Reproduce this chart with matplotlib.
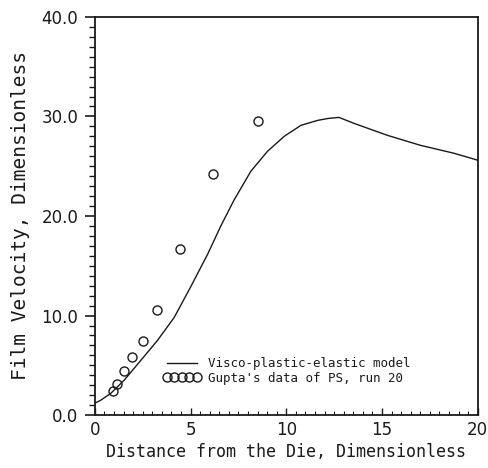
import numpy as np
import matplotlib.pyplot as plt
from matplotlib.ticker import MultipleLocator, FormatStrFormatter

# model curve: visco-plastic-elastic prediction
model_x = [0.0, 0.31, 0.84, 1.53, 2.4, 3.27, 4.14, 5.01, 5.9, 6.58, 7.27, 8.15, 9.02, 9.89,
           10.76, 11.63, 12.2, 12.75, 13.54, 15.28, 17.0, 18.76, 20.0]
model_v = [1.2, 1.5, 2.2, 3.5, 5.5, 7.5, 9.8, 12.9, 16.2, 19.0, 21.6, 24.5, 26.5, 28.0,
           29.1, 29.6, 29.8, 29.9, 29.3, 28.1, 27.1, 26.3, 25.6]

# Gupta's data of PS, run 20
data_x = [0.94, 1.15, 1.5, 1.93, 2.5, 3.24, 4.45, 6.15, 8.5]
data_v = [2.4, 3.1, 4.4, 5.8, 7.4, 10.6, 16.7, 24.2, 29.5]

ink = '#1a1a1a'
mono = 'DejaVu Sans Mono'
plt.rcParams['font.family'] = 'DejaVu Sans'

fig = plt.figure(figsize=(4.89, 4.68), dpi=100)
ax = fig.add_axes([0.194, 0.113, 0.783, 0.851])

ax.plot(model_x, model_v, color=ink, lw=1.0, label='Visco-plastic-elastic model')
ax.plot(data_x, data_v, 'o', mfc='none', mec=ink, ms=6.5, mew=1.0,
        label="Gupta's data of PS, run 20")

ax.set_xlim(0, 20)
ax.set_ylim(0, 40)
ax.xaxis.set_major_locator(MultipleLocator(5))
ax.xaxis.set_minor_locator(MultipleLocator(0.5))
ax.yaxis.set_major_locator(MultipleLocator(10))
ax.yaxis.set_minor_locator(MultipleLocator(1))
ax.yaxis.set_major_formatter(FormatStrFormatter('%.1f'))

for s in ax.spines.values():
    s.set_linewidth(1.3)
    s.set_color(ink)
ax.tick_params(axis='y', which='major', direction='out', length=7, width=1.2,
               labelsize=12, colors=ink, pad=5)
ax.tick_params(axis='y', which='minor', direction='out', length=4, width=1.0, colors=ink)
ax.tick_params(axis='x', which='major', direction='in', length=5, width=1.0,
               labelsize=12, colors=ink, pad=4)
ax.tick_params(axis='x', which='minor', direction='in', length=3, width=0.8, colors=ink)

ax.set_xlabel('Distance from the Die, Dimensionless', fontsize=12, family=mono,
              color=ink, labelpad=3)
ax.set_ylabel('Film Velocity, Dimensionless', fontsize=14, family=mono,
              color=ink, labelpad=8)

leg = ax.legend(loc='lower left', bbox_to_anchor=(0.155, 0.054), frameon=False,
                prop={'family': mono, 'size': 9}, numpoints=5, handlelength=3.0,
                handletextpad=0.6, labelspacing=0.15, borderpad=0.2)
for h in leg.legend_handles:
    h.set_markersize(6.5)
for t in leg.get_texts():
    t.set_color(ink)

fig.savefig('out.png', dpi=100)
